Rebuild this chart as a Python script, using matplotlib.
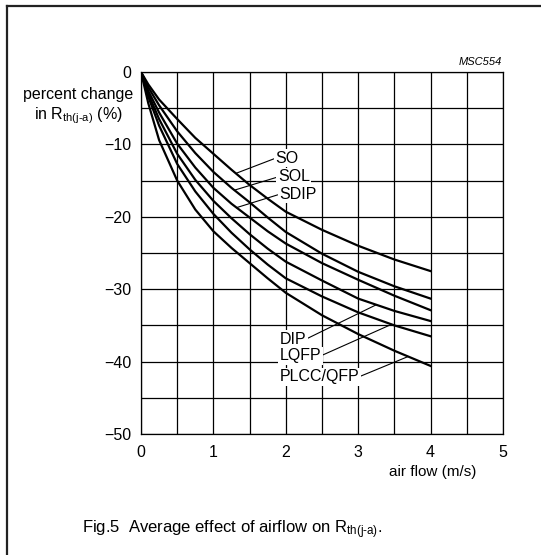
import numpy as np
import matplotlib
matplotlib.use("Agg")
import matplotlib.pyplot as plt
from matplotlib.lines import Line2D

plt.rcParams["font.family"] = ["Liberation Sans", "DejaVu Sans"]
plt.rcParams["mathtext.fontset"] = "custom"
plt.rcParams["mathtext.rm"] = "Liberation Sans"
plt.rcParams["mathtext.it"] = "Liberation Sans:italic"

# air flow (m/s) and percent change
airflow = [0, 0.1, 0.25, 0.5, 0.75, 1, 1.25, 1.5, 1.75, 2, 2.5, 3, 3.5, 4]
so = [0, -1.7, -3.8, -6.5, -9.1, -11.3, -13.5, -15.6, -17.5, -19.3, -21.8, -24.0, -25.9, -27.5]
sol = [0, -2.1, -4.6, -8.2, -11.2, -13.8, -16.0, -18.0, -20.1, -22.1, -25.1, -27.6, -29.6, -31.3]
sdip = [0, -2.6, -5.6, -9.9, -13.2, -16.0, -18.2, -20.1, -22.0, -23.7, -26.4, -28.7, -30.9, -32.9]
dip = [0, -3.0, -6.5, -11.3, -14.9, -17.8, -20.2, -22.4, -24.4, -26.2, -28.8, -31.3, -33.0, -34.4]
lqfp = [0, -3.4, -7.4, -12.7, -16.5, -19.6, -22.2, -24.5, -26.6, -28.5, -31.0, -33.2, -35.0, -36.5]
plcc = [0, -4.3, -9.4, -15.0, -19.0, -22.0, -24.3, -26.4, -28.5, -30.5, -33.6, -36.2, -38.5, -40.6]

curves = {"SO": so, "SOL": sol, "SDIP": sdip, "DIP": dip, "LQFP": lqfp, "PLCC/QFP": plcc}

# label text spot, and the x where the leader touches the curve
label_pos = {"SO": (1.86, -11.9), "SOL": (1.89, -14.5), "SDIP": (1.91, -16.9),
             "DIP": (1.91, -36.9), "LQFP": (1.91, -39.2), "PLCC/QFP": (1.91, -42.1)}
leader_x = {"SO": 1.31, "SOL": 1.29, "SDIP": 1.32, "DIP": 3.25, "LQFP": 3.46, "PLCC/QFP": 3.69}

fig = plt.figure(figsize=(5.41, 5.55), dpi=100)
ax = fig.add_axes([141 / 541, 1 - 434 / 555, 362 / 541, 362 / 555])

for name, vals in curves.items():
    ax.plot(airflow, vals, color="black", lw=1.6, solid_joinstyle="round", zorder=3)

for name, vals in curves.items():
    tx, ty = label_pos[name]
    lx = leader_x[name]
    ly = np.interp(lx, airflow, vals)
    upper = name in ("SO", "SOL", "SDIP")
    ax.annotate(name, xy=(lx, ly), xytext=(tx, ty), fontsize=11.5,
                ha="left", va="center", zorder=4,
                bbox=dict(boxstyle="square,pad=0.1", fc="white", ec="none"),
                arrowprops=dict(arrowstyle="-", lw=0.8, color="black",
                                shrinkA=0, shrinkB=0,
                                relpos=(0, 0.5) if upper else (1, 0.5)))

ax.set_xlim(0, 5)
ax.set_ylim(-50, 0)
ax.set_xticks(range(0, 6))
ax.set_xticks(np.arange(0, 5.01, 0.5), minor=True)
ax.set_yticks(range(-50, 1, 10))
ax.set_yticks(range(-50, 1, 5), minor=True)
ax.set_yticklabels(["\u221250", "\u221240", "\u221230", "\u221220", "\u221210", "0"])
ax.grid(which="both", color="black", lw=0.9, zorder=0)
ax.set_axisbelow(True)
ax.tick_params(which="both", length=0, labelsize=11.5)
ax.tick_params(axis="x", pad=8)
ax.tick_params(axis="y", pad=7)
for sp in ax.spines.values():
    sp.set_linewidth(0.9)

fig.text(78 / 541, 1 - 95 / 555, "percent change", ha="center", va="center", fontsize=11.5)
fig.text(78 / 541, 1 - 116 / 555, r"in R$_{\mathregular{th(j\text{-}a)}}$ (%)", ha="center",
         va="center", fontsize=11.5)
ax.text(4.03, -55.2, "air flow (m/s)", ha="center", va="center", fontsize=11)
fig.text(502 / 541, 1 - 62 / 555, "MSC554", ha="right", va="center", fontsize=8, style="italic")
fig.text(82 / 541, 1 - 530 / 555, r"Fig.5  Average effect of airflow on R$_{\mathregular{th(j\text{-}a)}}$.",
         ha="left", va="center", fontsize=12)

# outer frame (left and top edges)
fig.add_artist(Line2D([7 / 541, 7 / 541], [0, 1 - 6 / 555], color="#222222", lw=1.6))
fig.add_artist(Line2D([7 / 541, 1], [1 - 6 / 555, 1 - 6 / 555], color="#222222", lw=1.6))

fig.savefig("out.png", dpi=100)
